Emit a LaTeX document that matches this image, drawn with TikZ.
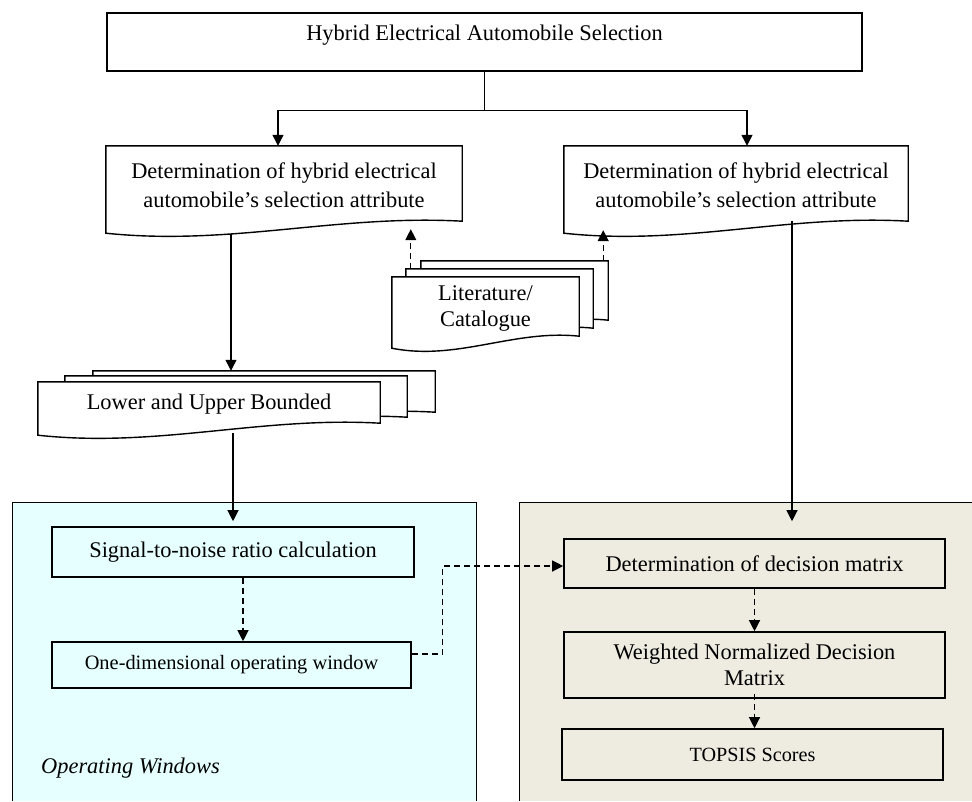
\documentclass[tikz,border=0pt]{standalone}
\usepackage{fontspec}
\setmainfont{Liberation Serif}
\usetikzlibrary{arrows.meta,calc,backgrounds}
\definecolor{owcyan}{HTML}{E6FFFF}
\definecolor{tpbeige}{HTML}{EEEBE1}
\tikzset{
  box/.style={draw,line width=1.6pt,align=center,inner sep=0pt,font=\fontsize{22.4}{26}\selectfont},
  docbox/.style={inner sep=0pt,align=center,font=\fontsize{22.4}{29}\selectfont},
  docline/.style={draw,fill=white,line width=1.4pt,line join=miter},
  link/.style={line width=1.2pt,-{Triangle[length=11pt,width=11pt]}},
  dlink/.style={link,dash pattern=on 6pt off 4pt},
  panel/.style={line width=1pt}
}
% document shape with wavy bottom, #2 = offset of the layer
\newcommand{\docshape}[2]{%
  \draw[docline] ($(#1.north west)+#2$) -- ($(#1.north east)+#2$)
    -- ($(#1.south east)+(0pt,3pt)+#2$)
    .. controls ($(#1.south east)!0.35!(#1.south west)+(0pt,10pt)+#2$)
    and ($(#1.south east)!0.65!(#1.south west)+(0pt,-22pt)+#2$)
    .. ($(#1.south west)+(0pt,-9pt)+#2$) -- cycle;}
\begin{document}
\begin{tikzpicture}[x=1pt,y=-1pt]
  \useasboundingbox (0,0) rectangle (972,801);
  % title
  \node[box,anchor=north,minimum width=755pt,text height=27.5pt,text depth=30.5pt] (title) at (484.5,12)
    {Hybrid Electrical Automobile Selection};
  % attribute documents
  \node[docbox,minimum width=356pt,minimum height=78pt] (attrL) at (284,185)
    {Determination of hybrid electrical\\automobile's selection attribute};
  \node[docbox,minimum width=344pt,minimum height=78pt] (attrR) at (736,185)
    {Determination of hybrid electrical\\automobile's selection attribute};
  % stacks
  \node[docbox,font=\fontsize{22.4}{26}\selectfont,minimum width=187pt,minimum height=62pt] (lit) at (485.5,308)
    {Literature/\\Catalogue};
  \node[docbox,minimum width=342pt,minimum height=44pt] (lub) at (209,404) {Lower and Upper Bounded};
  % operating windows
  \node[box,minimum width=362pt,minimum height=50pt] (sig) at (233,552) {Signal-to-noise ratio calculation};
  \node[box,font=\fontsize{20.4}{24}\selectfont,minimum width=359pt,minimum height=46pt] (odw) at (231.5,665)
    {One-dimensional operating window};
  \node[anchor=base west,inner sep=0pt,font=\fontsize{22.4}{26}\selectfont\itshape] (owlabel) at (41,773)
    {Operating Windows};
  % topsis
  \node[box,minimum width=381pt,minimum height=49pt] (dm) at (754.5,563.5) {Determination of decision matrix};
  \node[box,minimum width=381pt,minimum height=66pt] (wndm) at (754.5,665) {Weighted Normalized Decision\\Matrix};
  \node[box,font=\fontsize{20.2}{24}\selectfont,minimum width=381pt,minimum height=51pt] (topsis) at (752.5,754.5)
    {TOPSIS Scores};
  % backgrounds and document outlines
  \begin{pgfonlayer}{background}
    \fill[owcyan] (12,502) rectangle (476,801);
    \draw[panel] (12,801) -- (12,502) -- (476,502) -- (476,801);
    \fill[tpbeige] (519,502) rectangle (972,801);
    \draw[panel] (519,801) -- (519,502) -- (972,502);
    \docshape{attrL}{(0pt,0pt)}
    \docshape{attrR}{(0pt,0pt)}
    \foreach \dx/\dy in {29/16,14/8,0/0} {\docshape{lit}{(\dx pt,\dy pt)}}
    \foreach \dx/\dy in {55/11,27/6,0/0} {\docshape{lub}{(\dx pt,\dy pt)}}
  \end{pgfonlayer}
  % connectors
  \draw[link] (title.south) -- ++(0,39) -| ([xshift=-6pt]attrL.north);
  \draw[link] (title.south) -- ++(0,39) -| ([xshift=11pt]attrR.north);
  \draw[link] ([xshift=-53pt,yshift=-10pt]attrL.south) -- ([xshift=22pt,yshift=11pt]lub.north);
  \draw[link] ($(lub.south -| sig.north)+(0pt,-7pt)$) -- ([yshift=5pt]sig.north);
  \draw[link] ([xshift=56pt,yshift=3pt]attrR.south) -- ([xshift=37.5pt,yshift=17pt]dm.north);
  \draw[dlink] ([xshift=19pt,yshift=8pt]lit.north west) -- ($(lit.north west |- attrL.south)+(19pt,-5pt)$);
  \draw[dlink] ([xshift=24pt,yshift=16pt]lit.north east) -- ($(lit.north east |- attrR.south)+(24pt,-6pt)$);
  \draw[dlink] ($(sig.south)+(10pt,0pt)$) -- ($(sig.south |- odw.north)+(10pt,0pt)$);
  \draw[dlink] ([yshift=11pt]odw.east) -- ++(31,0) |- ([yshift=-2.5pt]dm.west);
  \draw[dlink] (dm.south) -- (wndm.north);
  \draw[dlink] ([yshift=5pt]wndm.south) -- (wndm.south |- topsis.north);
\end{tikzpicture}
\end{document}
